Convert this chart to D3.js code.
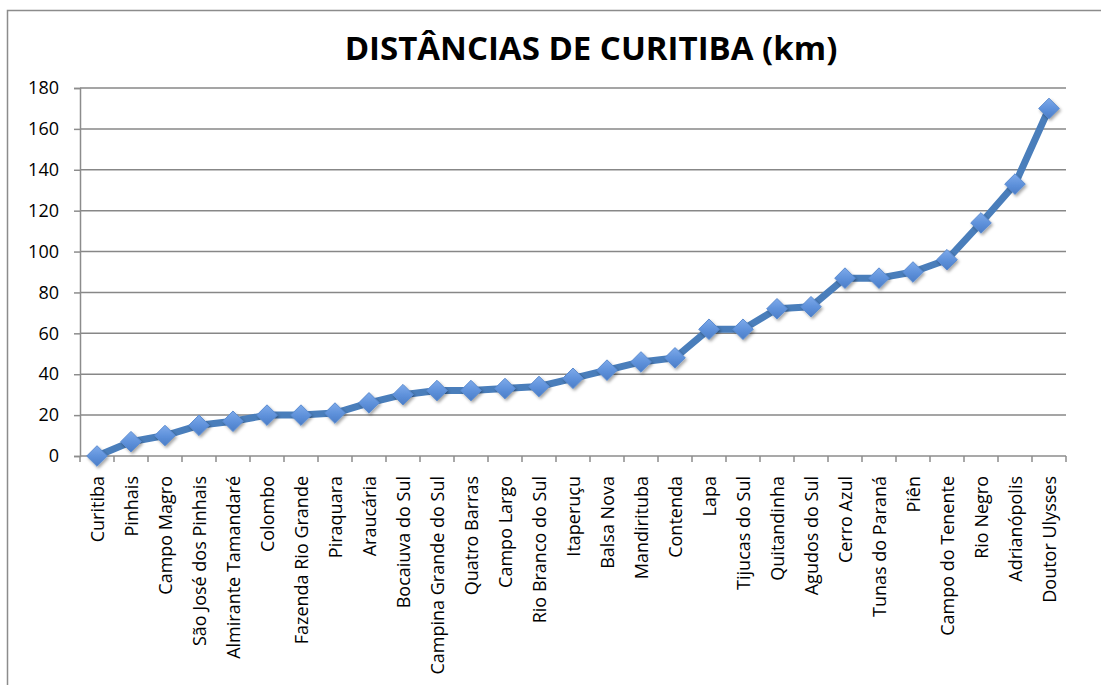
<!DOCTYPE html>
<html>
<head>
<meta charset="utf-8">
<script src="https://cdn.jsdelivr.net/npm/d3@7"></script>
<style>
  html, body { margin: 0; padding: 0; background: #fff; }
  svg { display: block; }
</style>
</head>
<body>
<svg id="chart" width="1101" height="685"></svg>
<script>
const chartTitle = "DISTÂNCIAS DE CURITIBA (km)";
const categories = [
  "Curitiba", "Pinhais", "Campo Magro", "São José dos Pinhais", "Almirante Tamandaré",
  "Colombo", "Fazenda Rio Grande", "Piraquara", "Araucária", "Bocaiuva do Sul",
  "Campina Grande do Sul", "Quatro Barras", "Campo Largo", "Rio Branco do Sul", "Itaperuçu",
  "Balsa Nova", "Mandirituba", "Contenda", "Lapa", "Tijucas do Sul",
  "Quitandinha", "Agudos do Sul", "Cerro Azul", "Tunas do Paraná", "Piên",
  "Campo do Tenente", "Rio Negro", "Adrianópolis", "Doutor Ulysses"
];
const distances = [
  0, 7, 10, 15, 17,
  20, 20, 21, 26, 30,
  32, 32, 33, 34, 38,
  42, 46, 48, 62, 62,
  72, 73, 87, 87, 90,
  96, 114, 133, 170
];
const yTicks = [0, 20, 40, 60, 80, 100, 120, 140, 160, 180];

const svg = d3.select("#chart");
const margin = { left: 80, right: 35, top: 88, bottom: 229 };
const W = 1101, H = 685;
const plotW = W - margin.left - margin.right;
const plotH = H - margin.top - margin.bottom;
const FONT = "'Open Sans', sans-serif";

// outer frame
svg.append("rect")
  .attr("x", 7.5).attr("y", 10.5)
  .attr("width", 1110).attr("height", 700)
  .attr("fill", "none").attr("stroke", "#8c8c8c").attr("stroke-width", 1.5);

const defs = svg.append("defs");
const grad = defs.append("linearGradient").attr("id", "mk")
  .attr("x1", 0).attr("y1", 0).attr("x2", 0).attr("y2", 1);
grad.append("stop").attr("offset", "0%").attr("stop-color", "#7eaaea");
grad.append("stop").attr("offset", "55%").attr("stop-color", "#5d90da");
grad.append("stop").attr("offset", "100%").attr("stop-color", "#4b7dc7");
const filt = defs.append("filter").attr("id", "shadow")
  .attr("x", "-50%").attr("y", "-50%").attr("width", "200%").attr("height", "200%");
filt.append("feDropShadow").attr("dx", 1.5).attr("dy", 2).attr("stdDeviation", 1.8)
  .attr("flood-color", "#000").attr("flood-opacity", 0.35);

const g = svg.append("g").attr("transform", `translate(${margin.left},${margin.top})`);

const x = d3.scaleBand().domain(categories).range([0, plotW]).padding(0);
const y = d3.scaleLinear().domain([0, 180]).range([plotH, 0]);

// gridlines
g.append("g").selectAll("line").data(yTicks.filter(d => d > 0)).join("line")
  .attr("x1", 0).attr("x2", plotW)
  .attr("y1", d => y(d)).attr("y2", d => y(d))
  .attr("stroke", "#878787").attr("stroke-width", 1.5);

// y axis
const yAxis = g.append("g")
  .call(d3.axisLeft(y).tickValues(yTicks).tickSize(6).tickPadding(15).tickFormat(d3.format("d")));
yAxis.select(".domain").attr("stroke", "#8c8c8c").attr("stroke-width", 1.5);
yAxis.selectAll(".tick line").attr("stroke", "#8c8c8c").attr("stroke-width", 1.5);
yAxis.selectAll(".tick text")
  .attr("font-family", FONT).attr("font-size", 18).attr("fill", "#000");

// x axis line and ticks at category boundaries
const xAxisG = g.append("g").attr("transform", `translate(0,${plotH})`);
xAxisG.append("line").attr("x1", 0).attr("x2", plotW).attr("y1", 0).attr("y2", 0)
  .attr("stroke", "#8c8c8c").attr("stroke-width", 1.5);
const bounds = d3.range(categories.length + 1).map(i => i * x.bandwidth());
xAxisG.selectAll("line.tk").data(bounds).join("line").attr("class", "tk")
  .attr("x1", d => d).attr("x2", d => d).attr("y1", 0).attr("y2", 6)
  .attr("stroke", "#8c8c8c").attr("stroke-width", 1.5);
xAxisG.selectAll("text").data(categories).join("text")
  .attr("transform", d => `translate(${x(d) + x.bandwidth() / 2 + 7},20) rotate(-90)`)
  .attr("text-anchor", "end")
  .attr("font-family", FONT).attr("font-size", 18).attr("fill", "#000")
  .text(d => d);

// line
const line = d3.line()
  .x((d, i) => x(categories[i]) + x.bandwidth() / 2)
  .y(d => y(d));
g.append("path").datum(distances)
  .attr("d", line)
  .attr("fill", "none").attr("stroke", "#4a7ebb").attr("stroke-width", 7)
  .attr("stroke-linejoin", "round");

// markers (diamonds)
const sym = d3.symbol().type(d3.symbolDiamond2).size(270);
g.append("g").selectAll("path").data(distances).join("path")
  .attr("transform", (d, i) => `translate(${x(categories[i]) + x.bandwidth() / 2},${y(d)})`)
  .attr("d", sym)
  .attr("fill", "url(#mk)")
  .attr("stroke", "#5a8bd0").attr("stroke-width", 1)
  .attr("stroke-linejoin", "round")
  .attr("filter", "url(#shadow)");

// title
svg.append("text")
  .attr("x", 591).attr("y", 60)
  .attr("text-anchor", "middle")
  .attr("font-family", FONT).attr("font-weight", "bold")
  .attr("font-size", 33).attr("fill", "#000")
  .text(chartTitle);
</script>
</body>
</html>
